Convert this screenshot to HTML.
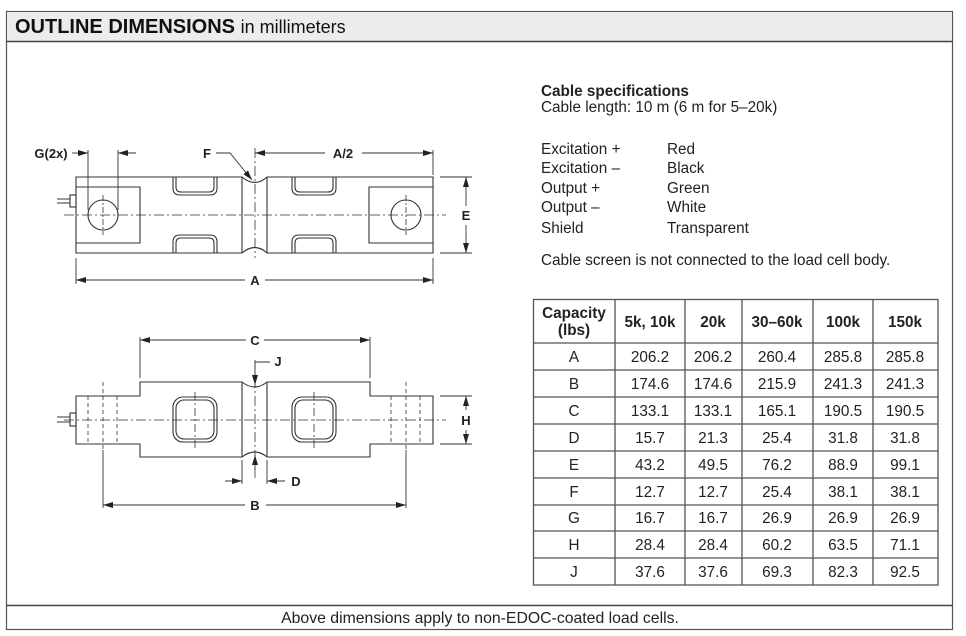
<!DOCTYPE html>
<html><head><meta charset="utf-8"><style>
html,body{margin:0;padding:0;background:#fff;}
svg{display:block;font-family:"Liberation Sans",Arial,sans-serif;}
</style></head><body>
<svg width="966" height="636" viewBox="0 0 966 636" xmlns="http://www.w3.org/2000/svg">
<defs>
<marker id="ar" viewBox="0 0 10 6" refX="10" refY="3" markerWidth="10" markerHeight="6" orient="auto" markerUnits="userSpaceOnUse"><path d="M0,0 L10,3 L0,6 z" fill="#222"/></marker>
</defs>
<rect x="6.5" y="11.5" width="946" height="618" fill="#fff" stroke="#555" stroke-width="1.2"/>
<rect x="7" y="12" width="945" height="29" fill="#ececec"/>
<line x1="6" y1="41.5" x2="953" y2="41.5" stroke="#444" stroke-width="1.5"/>
<line x1="6" y1="605.5" x2="953" y2="605.5" stroke="#444" stroke-width="1.5"/>
<text x="15" y="33" font-size="20" font-weight="bold" fill="#111">OUTLINE DIMENSIONS <tspan font-weight="normal" font-size="18">in millimeters</tspan></text>
<text x="480" y="623" font-size="15.8" text-anchor="middle" fill="#222">Above dimensions apply to non-EDOC-coated load cells.</text>

<g font-size="15.3" fill="#222">
<text x="541" y="96" font-weight="bold">Cable specifications</text>
<text x="541" y="112">Cable length: 10 m (6 m for 5–20k)</text>
<text x="541" y="154">Excitation +</text><text x="667" y="154">Red</text>
<text x="541" y="173">Excitation –</text><text x="667" y="173">Black</text>
<text x="541" y="193">Output +</text><text x="667" y="193">Green</text>
<text x="541" y="212">Output –</text><text x="667" y="212">White</text>
<text x="541" y="233">Shield</text><text x="667" y="233">Transparent</text>
<text x="541" y="265">Cable screen is not connected to the load cell body.</text>
</g>

<g stroke="#555" stroke-width="1.3" fill="none">
<rect x="533.5" y="299.5" width="404.5" height="285.5"/>
<line x1="533" y1="343" x2="938" y2="343"/>
<line x1="533" y1="370" x2="938" y2="370"/>
<line x1="533" y1="397" x2="938" y2="397"/>
<line x1="533" y1="424" x2="938" y2="424"/>
<line x1="533" y1="451" x2="938" y2="451"/>
<line x1="533" y1="478" x2="938" y2="478"/>
<line x1="533" y1="505" x2="938" y2="505"/>
<line x1="533" y1="531" x2="938" y2="531"/>
<line x1="533" y1="558" x2="938" y2="558"/>
<line x1="615" y1="299" x2="615" y2="585"/>
<line x1="685" y1="299" x2="685" y2="585"/>
<line x1="742" y1="299" x2="742" y2="585"/>
<line x1="813" y1="299" x2="813" y2="585"/>
<line x1="873" y1="299" x2="873" y2="585"/>
</g>
<g font-size="15.3" fill="#222" text-anchor="middle">
<g font-weight="bold">
<text x="574" y="318">Capacity</text><text x="574" y="335">(lbs)</text>
<text x="650" y="327">5k, 10k</text><text x="713" y="327">20k</text><text x="777" y="327">30–60k</text><text x="843" y="327">100k</text><text x="905" y="327">150k</text>
</g>
<g>
<text x="574" y="362">A</text><text x="650" y="362">206.2</text><text x="713" y="362">206.2</text><text x="777" y="362">260.4</text><text x="843" y="362">285.8</text><text x="905" y="362">285.8</text>
<text x="574" y="389">B</text><text x="650" y="389">174.6</text><text x="713" y="389">174.6</text><text x="777" y="389">215.9</text><text x="843" y="389">241.3</text><text x="905" y="389">241.3</text>
<text x="574" y="416">C</text><text x="650" y="416">133.1</text><text x="713" y="416">133.1</text><text x="777" y="416">165.1</text><text x="843" y="416">190.5</text><text x="905" y="416">190.5</text>
<text x="574" y="443">D</text><text x="650" y="443">15.7</text><text x="713" y="443">21.3</text><text x="777" y="443">25.4</text><text x="843" y="443">31.8</text><text x="905" y="443">31.8</text>
<text x="574" y="470">E</text><text x="650" y="470">43.2</text><text x="713" y="470">49.5</text><text x="777" y="470">76.2</text><text x="843" y="470">88.9</text><text x="905" y="470">99.1</text>
<text x="574" y="497">F</text><text x="650" y="497">12.7</text><text x="713" y="497">12.7</text><text x="777" y="497">25.4</text><text x="843" y="497">38.1</text><text x="905" y="497">38.1</text>
<text x="574" y="523">G</text><text x="650" y="523">16.7</text><text x="713" y="523">16.7</text><text x="777" y="523">26.9</text><text x="843" y="523">26.9</text><text x="905" y="523">26.9</text>
<text x="574" y="550">H</text><text x="650" y="550">28.4</text><text x="713" y="550">28.4</text><text x="777" y="550">60.2</text><text x="843" y="550">63.5</text><text x="905" y="550">71.1</text>
<text x="574" y="577">J</text><text x="650" y="577">37.6</text><text x="713" y="577">37.6</text><text x="777" y="577">69.3</text><text x="843" y="577">82.3</text><text x="905" y="577">92.5</text>
</g>
</g>

<g stroke="#333" stroke-width="1.1" fill="none">
<path d="M76,177 H242 Q255,188 267,177 H433 V253 H267 Q255,242 242,253 H76 Z"/>
<line x1="242" y1="177" x2="242" y2="253"/>
<line x1="267" y1="177" x2="267" y2="253"/>
<path d="M76,187 H140 V243 H76"/>
<path d="M433,187 H369 V243 H433"/>
<circle cx="103" cy="215" r="15"/>
<circle cx="406" cy="215" r="15"/>
<path d="M173,177 V188 Q173,195 180,195 H210 Q217,195 217,188 V177"/>
<path d="M176,177 V187 Q176,192 181,192 H209 Q214,192 214,187 V177"/>
<path d="M292,177 V188 Q292,195 299,195 H329 Q336,195 336,188 V177"/>
<path d="M295,177 V187 Q295,192 300,192 H328 Q333,192 333,187 V177"/>
<path d="M173,253 V242 Q173,235 180,235 H210 Q217,235 217,242 V253"/>
<path d="M176,253 V243 Q176,238 181,238 H209 Q214,238 214,243 V253"/>
<path d="M292,253 V242 Q292,235 299,235 H329 Q336,235 336,242 V253"/>
<path d="M295,253 V243 Q295,238 300,238 H328 Q333,238 333,243 V253"/>
<rect x="70" y="195" width="6" height="12"/>
<path d="M70,199 H57 M70,203 H57"/>
<line x1="64" y1="215" x2="446" y2="215" stroke-dasharray="10,3,2,3" stroke-width="0.8"/>
<line x1="255" y1="148" x2="255" y2="258" stroke-dasharray="10,3,2,3" stroke-width="0.8"/>
<line x1="103" y1="195" x2="103" y2="235" stroke-dasharray="6,2,2,2" stroke-width="0.8"/>
<line x1="406" y1="195" x2="406" y2="235" stroke-dasharray="6,2,2,2" stroke-width="0.8"/>
<line x1="88" y1="150" x2="88" y2="210" stroke-width="0.9"/>
<line x1="118" y1="150" x2="118" y2="210" stroke-width="0.9"/>
<line x1="72" y1="153" x2="88" y2="153" marker-end="url(#ar)" stroke-width="0.9"/>
<line x1="136" y1="153" x2="118" y2="153" marker-end="url(#ar)" stroke-width="0.9"/>
<path d="M216,153 H230 L252,180" stroke-width="0.9" marker-end="url(#ar)"/>
<line x1="433" y1="150" x2="433" y2="175" stroke-width="0.9"/>
<line x1="325" y1="153" x2="255" y2="153" marker-end="url(#ar)" stroke-width="0.9"/>
<line x1="362" y1="153" x2="433" y2="153" marker-end="url(#ar)" stroke-width="0.9"/>
<line x1="440" y1="177" x2="472" y2="177" stroke-width="0.9"/>
<line x1="440" y1="253" x2="472" y2="253" stroke-width="0.9"/>
<line x1="466" y1="206" x2="466" y2="177" marker-end="url(#ar)" stroke-width="0.9"/>
<line x1="466" y1="225" x2="466" y2="253" marker-end="url(#ar)" stroke-width="0.9"/>
<line x1="76" y1="258" x2="76" y2="284" stroke-width="0.9"/>
<line x1="433" y1="258" x2="433" y2="284" stroke-width="0.9"/>
<line x1="245" y1="280" x2="76" y2="280" marker-end="url(#ar)" stroke-width="0.9"/>
<line x1="265" y1="280" x2="433" y2="280" marker-end="url(#ar)" stroke-width="0.9"/>
</g>
<g font-size="13" font-weight="bold" fill="#222" text-anchor="middle">
<text x="51" y="158">G(2x)</text>
<text x="207" y="158">F</text>
<text x="343" y="158">A/2</text>
<text x="466" y="220">E</text>
<text x="255" y="285">A</text>
</g>

<g stroke="#333" stroke-width="1.1" fill="none">
<path d="M76,396 H140 V382 H242 Q255,392 267,382 H370 V396 H433 V444 H370 V457 H267 Q255,447 242,457 H140 V444 H76 Z"/>
<line x1="242" y1="382" x2="242" y2="457"/>
<line x1="267" y1="382" x2="267" y2="457"/>
<rect x="173" y="397" width="44" height="45" rx="10"/>
<rect x="176" y="400" width="38" height="39" rx="8"/>
<rect x="292" y="397" width="44" height="45" rx="10"/>
<rect x="295" y="400" width="38" height="39" rx="8"/>
<rect x="70" y="413" width="6" height="13"/>
<path d="M70,417 H57 M70,422 H57"/>
<line x1="64" y1="420" x2="446" y2="420" stroke-dasharray="10,3,2,3" stroke-width="0.8"/>
<line x1="255" y1="360" x2="255" y2="478" stroke-dasharray="10,3,2,3" stroke-width="0.8"/>
<line x1="195" y1="392" x2="195" y2="448" stroke-dasharray="8,3,2,3" stroke-width="0.8"/>
<line x1="314" y1="392" x2="314" y2="448" stroke-dasharray="8,3,2,3" stroke-width="0.8"/>
<g stroke-dasharray="4,3" stroke-width="0.8">
<line x1="88" y1="396" x2="88" y2="444"/><line x1="117" y1="396" x2="117" y2="444"/>
<line x1="391" y1="396" x2="391" y2="444"/><line x1="420" y1="396" x2="420" y2="444"/>
<line x1="103" y1="382" x2="103" y2="450"/><line x1="406" y1="382" x2="406" y2="450"/>
</g>
<line x1="103" y1="450" x2="103" y2="508" stroke-width="0.9"/>
<line x1="406" y1="450" x2="406" y2="508" stroke-width="0.9"/>
<line x1="245" y1="505" x2="103" y2="505" marker-end="url(#ar)" stroke-width="0.9"/>
<line x1="266" y1="505" x2="406" y2="505" marker-end="url(#ar)" stroke-width="0.9"/>
<line x1="140" y1="337" x2="140" y2="378" stroke-width="0.9"/>
<line x1="370" y1="337" x2="370" y2="378" stroke-width="0.9"/>
<line x1="246" y1="340" x2="140" y2="340" marker-end="url(#ar)" stroke-width="0.9"/>
<line x1="264" y1="340" x2="370" y2="340" marker-end="url(#ar)" stroke-width="0.9"/>
<path d="M270,362 H255 V385" stroke-width="0.9" marker-end="url(#ar)"/>
<line x1="255" y1="470" x2="255" y2="455" marker-end="url(#ar)" stroke-width="0.9"/>
<line x1="242" y1="460" x2="242" y2="484" stroke-width="0.9"/>
<line x1="267" y1="460" x2="267" y2="484" stroke-width="0.9"/>
<line x1="225" y1="481" x2="242" y2="481" marker-end="url(#ar)" stroke-width="0.9"/>
<line x1="285" y1="481" x2="267" y2="481" marker-end="url(#ar)" stroke-width="0.9"/>
<line x1="440" y1="396" x2="472" y2="396" stroke-width="0.9"/>
<line x1="440" y1="444" x2="472" y2="444" stroke-width="0.9"/>
<line x1="466" y1="410" x2="466" y2="396" marker-end="url(#ar)" stroke-width="0.9"/>
<line x1="466" y1="430" x2="466" y2="444" marker-end="url(#ar)" stroke-width="0.9"/>
</g>
<g font-size="13" font-weight="bold" fill="#222" text-anchor="middle">
<text x="255" y="345">C</text>
<text x="278" y="366">J</text>
<text x="296" y="486">D</text>
<text x="466" y="425">H</text>
<text x="255" y="510">B</text>
</g>
</svg>
</body></html>
